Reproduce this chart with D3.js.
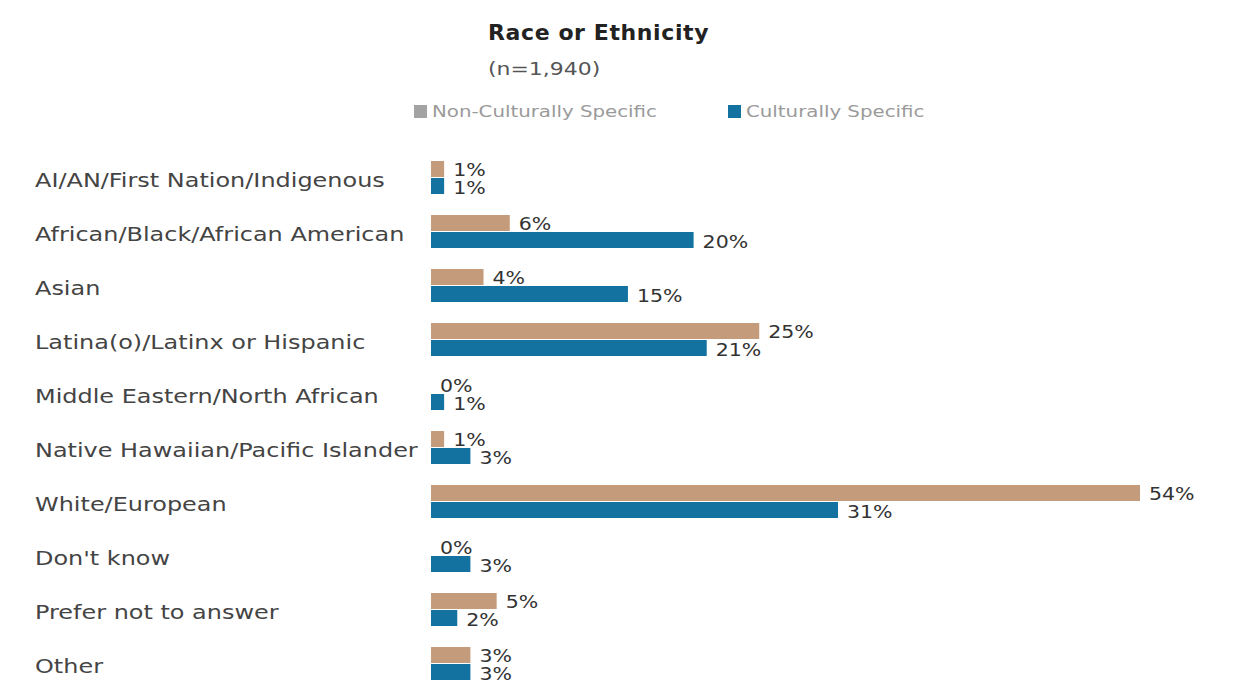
<!DOCTYPE html>
<html>
<head>
<meta charset="utf-8">
<script src="https://cdn.jsdelivr.net/npm/d3@7"></script>
<style>
  body { margin: 0; background: #fff; }
  svg { display: block; font-family: "DejaVu Sans", sans-serif; }
</style>
</head>
<body>
<script>
const categories = [
    "AI/AN/First Nation/Indigenous",
    "African/Black/African American",
    "Asian",
    "Latina(o)/Latinx or Hispanic",
    "Middle Eastern/North African",
    "Native Hawaiian/Pacific Islander",
    "White/European",
    "Don't know",
    "Prefer not to answer",
    "Other"
];
const nonCulturallySpecific = [1, 6, 4, 25, 0, 1, 54, 0, 5, 3];
const culturallySpecific = [1, 20, 15, 21, 1, 3, 31, 3, 2, 3];
const seriesNames = ["Non-Culturally Specific", "Culturally Specific"];

const width = 1252, height = 687;
const tan = "#c49c7c", blue = "#13729f";

const svg = d3.select("body").append("svg")
    .attr("width", width)
    .attr("height", height);

const x = d3.scaleLinear().domain([0, 54]).range([431, 1140]);
const y = d3.scaleBand().domain(categories).range([151, 691]);

// the source picture is stretched sideways, so stretch the text too
function wideText(parent, tx, ty, sx) {
    return parent.append("g")
        .attr("transform", "translate(" + tx + "," + ty + ") scale(" + sx + ",1)")
        .append("text");
}

// title
svg.append("text")
    .attr("x", 488).attr("y", 40)
    .attr("font-size", 22).attr("font-weight", "bold")
    .attr("letter-spacing", 0.6)
    .attr("fill", "#222")
    .text("Race or Ethnicity");

wideText(svg, 488, 75, 1.22)
    .attr("font-size", 18)
    .attr("fill", "#555")
    .text("(n=1,940)");

// legend
const legendX = [414, 728];
const legendColors = ["#a3a3a3", blue];
seriesNames.forEach(function(name, i) {
    svg.append("rect")
        .attr("x", legendX[i]).attr("y", 105)
        .attr("width", 13).attr("height", 13)
        .attr("fill", legendColors[i]);
    wideText(svg, legendX[i] + 18, 117, 1.32)
        .attr("font-size", 15)
        .attr("fill", "#9a9a9a")
        .text(name);
});

// category labels
categories.forEach(function(c) {
    wideText(svg, 35, y(c) + y.bandwidth() / 2 + 2, 1.26)
        .attr("dominant-baseline", "central")
        .attr("font-size", 19)
        .attr("fill", "#444")
        .text(c);
});

const rows = categories.map(function(c, i) {
    return {cat: c, a: nonCulturallySpecific[i], b: culturallySpecific[i]};
});

const row = svg.append("g").selectAll("g")
    .data(rows)
    .enter().append("g")
    .attr("transform", function(d) { return "translate(0," + (y(d.cat) + y.bandwidth() / 2) + ")"; });

// non-culturally specific bars
row.append("rect")
    .attr("x", x(0))
    .attr("y", -17)
    .attr("width", function(d) { return x(d.a) - x(0); })
    .attr("height", 16)
    .attr("fill", tan);

// culturally specific bars
row.append("rect")
    .attr("x", x(0))
    .attr("y", 0)
    .attr("width", function(d) { return x(d.b) - x(0); })
    .attr("height", 16)
    .attr("fill", blue);

// value labels
row.each(function(d) {
    const g = d3.select(this);
    wideText(g, x(d.a) + 9, -8, 1.14)
        .attr("dominant-baseline", "central")
        .attr("font-size", 18)
        .attr("fill", "#333")
        .text(d.a + "%");
    wideText(g, x(d.b) + 9, 10, 1.14)
        .attr("dominant-baseline", "central")
        .attr("font-size", 18)
        .attr("fill", "#333")
        .text(d.b + "%");
});
</script>
</body>
</html>
